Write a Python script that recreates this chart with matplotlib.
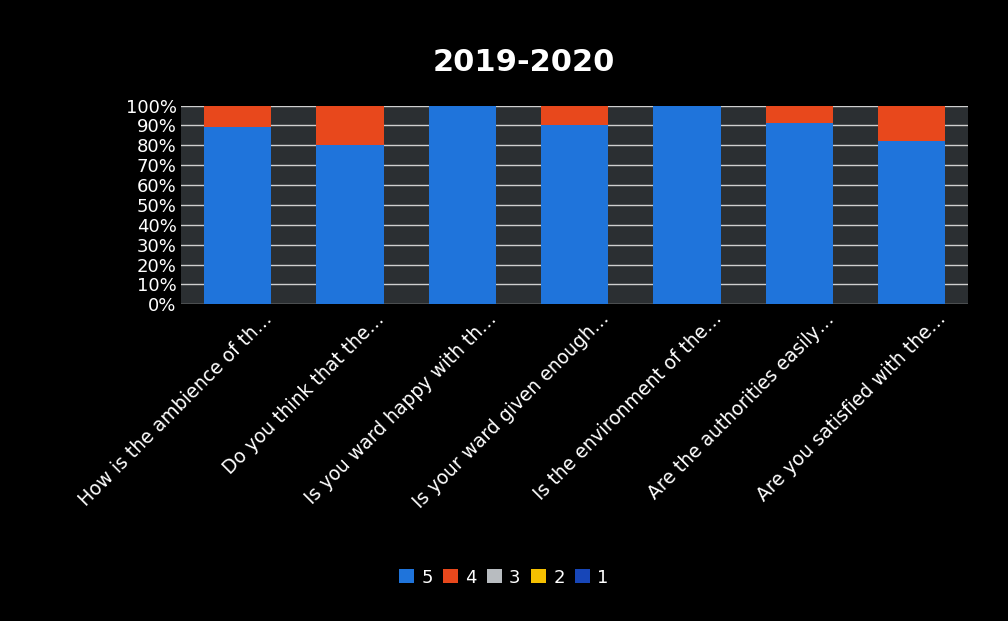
import numpy as np
import matplotlib.pyplot as plt
from matplotlib.transforms import ScaledTranslation

# questions (labels truncated as in the original chart)
questions = [
    "How is the ambience of th…",
    "Do you think that the…",
    "Is you ward happy with th…",
    "Is your ward given enough…",
    "Is the environment of the…",
    "Are the authorities easily…",
    "Are you satisfied with the…",
]

# share of answers per rating (percent)
rating_5 = [89, 80, 100, 90, 100, 91, 82]
rating_4 = [11, 20, 0, 10, 0, 9, 18]
rating_3 = [0, 0, 0, 0, 0, 0, 0]
rating_2 = [0, 0, 0, 0, 0, 0, 0]
rating_1 = [0, 0, 0, 0, 0, 0, 0]

series = [("5", rating_5, "#1f74db"), ("4", rating_4, "#e8481c"),
          ("3", rating_3, "#b8bcc0"), ("2", rating_2, "#f5c000"),
          ("1", rating_1, "#1746b8")]

fig = plt.figure(figsize=(10.08, 6.21), dpi=100, facecolor="black")
ax = fig.add_axes([0.18, 0.51, 0.78, 0.32])
ax.set_facecolor("#2b2f32")

x = np.arange(len(questions))
bottom = np.zeros(len(questions))
for name, vals, color in series:
    ax.bar(x, vals, width=0.6, bottom=bottom, color=color, label=name, zorder=3)
    bottom += np.array(vals)

ax.set_ylim(0, 100)
ax.set_xlim(-0.5, len(questions) - 0.5)
ax.set_yticks(np.arange(0, 101, 10))
ax.set_yticklabels([f"{v}%" for v in range(0, 101, 10)])
ax.yaxis.grid(True, color="#cfcfcf", linewidth=1.0, zorder=1)
ax.set_axisbelow(True)
ax.tick_params(axis="both", length=0, colors="white", labelsize=13)
ax.set_xticks(x)
ax.set_xticklabels(questions, rotation=45, ha="right", rotation_mode="anchor",
                   fontsize=13.5, color="white")
# move the slanted labels a bit to the right, as in the original
shift = ScaledTranslation(0.25, 0, fig.dpi_scale_trans)
for lbl in ax.get_xticklabels():
    lbl.set_transform(lbl.get_transform() + shift)
for s in ax.spines.values():
    s.set_visible(False)

fig.text(0.52, 0.90, "2019-2020", color="white", fontsize=22,
         fontweight="bold", ha="center", va="center")

fig.legend(loc="center", bbox_to_anchor=(0.5, 0.07), ncol=5, frameon=False,
           labelcolor="white", fontsize=13, handlelength=0.8, handleheight=0.8,
           handletextpad=0.4, columnspacing=0.6)

fig.savefig("out.png", facecolor="black")
